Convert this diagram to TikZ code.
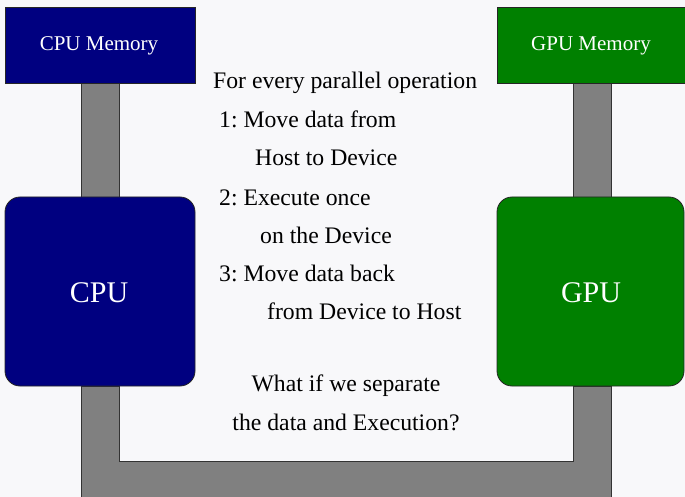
\documentclass[tikz,border=0pt]{standalone}
\usepackage{fontspec}
\setmainfont{Liberation Serif}
\frenchspacing
\definecolor{bg}{HTML}{F8F8FA}
\definecolor{cpublue}{HTML}{000080}
\definecolor{gpugreen}{HTML}{008000}
\definecolor{bar}{HTML}{808080}
\begin{document}
\begin{tikzpicture}[x=1pt,y=-1pt,
  barstyle/.style={fill=bar,draw=black!80,line width=0.8pt},
  memstyle/.style={draw=black!85,line width=0.8pt},
  unitstyle/.style={draw=black!85,line width=0.8pt,rounded corners=15pt},
  memlabel/.style={text=white,font=\fontsize{21}{25}\selectfont,anchor=base},
  unitlabel/.style={text=white,font=\fontsize{30}{36}\selectfont,anchor=base},
  txt/.style={anchor=base west,inner sep=0pt,font=\fontsize{23.7}{28}\selectfont\frenchspacing,text=black}]
\fill[bg] (0,0) rectangle (685,497);
\useasboundingbox (0,0) rectangle (685,497);
% bars
\draw[barstyle] (81,83) rectangle (119,197);
\draw[barstyle] (573,83) rectangle (611,197);
\draw[barstyle] (81,520) -- (81,386) -- (119,386) -- (119,461) -- (573,461) -- (573,386) -- (611,386) -- (611,520) -- cycle;
% boxes
\draw[memstyle,fill=cpublue] (5,7) rectangle (195,83);
\node[memlabel] (cpumem) at (99,51) {CPU Memory};
\draw[memstyle,fill=gpugreen] (497,7) rectangle (688,83);
\node[memlabel] (gpumem) at (591,51) {GPU Memory};
\draw[unitstyle,fill=cpublue] (5,197) rectangle (195,386);
\node[unitlabel] (cpu) at (99,302) {CPU};
\draw[unitstyle,fill=gpugreen] (497,197) rectangle (684,386);
\node[unitlabel] (gpu) at (591,302) {GPU};
% text
\node[txt] (t1) at (213,89) {For every parallel operation};
\node[txt] (t2) at (219,128) {1: Move data from};
\node[txt] (t3) at (255,166) {Host to Device};
\node[txt] (t4) at (219,205) {2: Execute once};
\node[txt] (t5) at (260,243) {on the Device};
\node[txt] (t6) at (219,281) {3: Move data back};
\node[txt] (t7) at (267,319) {from Device to Host};
\node[txt,anchor=base] (t8) at (346,391) {What if we separate};
\node[txt,anchor=base] (t9) at (346,430) {the data and Execution?};
\end{tikzpicture}
\end{document}
